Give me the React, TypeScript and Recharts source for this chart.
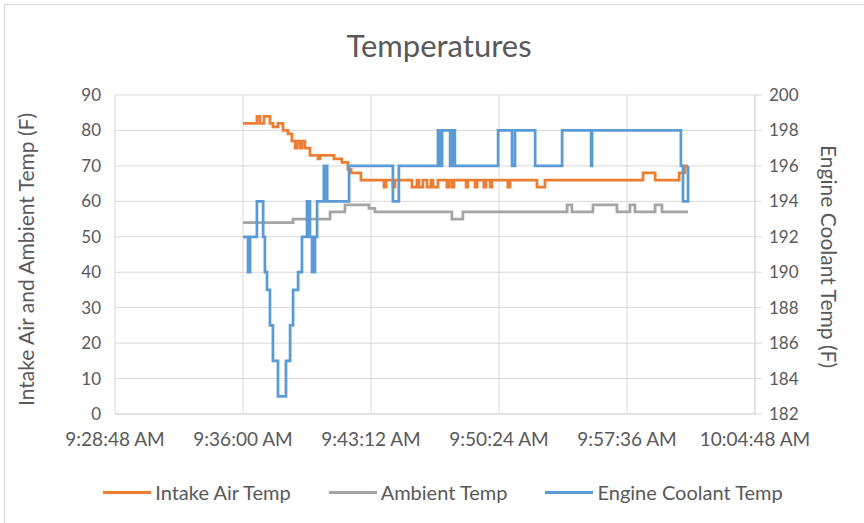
import React from 'react';
import {
    LineChart, Line, XAxis, YAxis, CartesianGrid, Legend
} from 'recharts';

// x axis ticks (Excel time axis, every 7:12)
const xTickLabels = ['9:28:48 AM', '9:36:00 AM', '9:43:12 AM', '9:50:24 AM', '9:57:36 AM', '10:04:48 AM'];
const leftTicks = [0, 10, 20, 30, 40, 50, 60, 70, 80, 90];
const rightTicks = [182, 184, 186, 188, 190, 192, 194, 196, 198, 200];

// Intake Air Temp (F) - left axis
const intakeTimes = [
    '9:36:00', '9:36:47', '9:36:57', '9:37:11', '9:37:31', '9:37:41', '9:37:58', '9:38:15', '9:38:32',
    '9:38:45', '9:38:56', '9:39:02', '9:39:12', '9:39:19', '9:39:29', '9:39:46', '9:40:13', '9:40:20',
    '9:41:07', '9:41:34', '9:41:54', '9:42:05', '9:42:38',
    '9:43:56', '9:44:03', '9:44:26', '9:44:33', '9:45:30', '9:45:47', '9:45:54', '9:46:07', '9:46:21',
    '9:46:34', '9:46:41', '9:46:58', '9:47:28', '9:47:35', '9:47:45', '9:47:52', '9:48:33', '9:48:39',
    '9:49:03', '9:49:10', '9:49:33', '9:49:40', '9:49:54', '9:50:00', '9:50:54', '9:51:01', '9:52:32',
    '9:52:59', '9:58:30', '9:59:11', '10:00:32', '10:00:52', '10:01:02',
];
const intakeTemps = [
    82, 84, 82, 84, 82, 81, 82, 80, 79,
    77, 75, 77, 75, 77, 75, 73, 72, 73,
    72, 71, 69, 68, 66,
    64, 66, 64, 66, 64, 66, 64, 66, 64,
    66, 64, 66, 64, 66, 64, 66, 64, 66,
    64, 66, 64, 66, 64, 66, 64, 66, 64,
    66, 68, 66, 68, 70, 70,
];

// Ambient Temp (F) - left axis
const ambientTimes = [
    '9:36:00', '9:38:49', '9:40:54', '9:41:44', '9:43:05', '9:43:25', '9:47:45', '9:48:22', '9:54:14',
    '9:54:30', '9:55:41', '9:57:02', '9:57:46', '9:58:03', '9:59:11', '9:59:34', '10:01:02',
];
const ambientTemps = [54, 55, 57, 59, 58, 57, 55, 57, 59, 57, 59, 57, 59, 57, 59, 57, 57];

// Engine Coolant Temp (F) - right axis
const coolantTimes = [
    '9:36:00', '9:36:17', '9:36:24', '9:36:47', '9:37:08', '9:37:14', '9:37:21', '9:37:31', '9:37:41',
    '9:37:58', '9:38:25', '9:38:39', '9:38:49', '9:39:06', '9:39:19', '9:39:36', '9:39:39', '9:39:43',
    '9:39:46', '9:39:53', '9:39:56', '9:40:00', '9:40:03', '9:40:10', '9:40:33', '9:40:37', '9:40:40',
    '9:40:44', '9:41:58', '9:44:26', '9:44:46', '9:46:58', '9:47:02', '9:47:05', '9:47:08', '9:47:12',
    '9:47:39', '9:47:42', '9:47:45', '9:47:49', '9:47:55', '9:50:21', '9:51:08', '9:51:18', '9:52:26',
    '9:53:57', '9:55:35', '9:55:38', '10:00:38', '10:00:45', '10:01:02',
];
const coolantTemps = [
    192, 190, 192, 194, 192, 190, 189, 187, 185,
    183, 185, 187, 189, 190, 192, 194, 192, 194,
    192, 190, 192, 190, 192, 194, 196, 194, 196,
    194, 196, 194, 196, 198, 196, 198, 196, 198,
    196, 198, 196, 198, 196, 198, 196, 198, 196,
    198, 196, 198, 196, 194, 196,
];

const ORANGE = '#ED7D31';
const GRAY = '#A5A5A5';
const BLUE = '#5B9BD5';
const TEXT = '#595959';
const GRID = '#d9d9d9';
const FONT = 'Lato, "Open Sans", sans-serif';

const toSec = (s: string) => {
    const [h, m, sec] = s.replace(/ ?[AP]M$/, '').split(':').map(Number);
    return h * 3600 + m * 60 + sec;
};
const fmtTime = (v: number) => {
    const h = Math.floor(v / 3600);
    const m = Math.floor((v % 3600) / 60);
    const s = Math.round(v % 60);
    const pad = (n: number) => String(n).padStart(2, '0');
    return `${h}:${pad(m)}:${pad(s)} AM`;
};

const toSeries = (times: string[], values: number[]) =>
    times.map((t, i) => ({ t: toSec(t), v: values[i] }));

const intakeData = toSeries(intakeTimes, intakeTemps);
const ambientData = toSeries(ambientTimes, ambientTemps);
const coolantData = toSeries(coolantTimes, coolantTemps);
const xTicks = xTickLabels.map(toSec);

const series = [
    { name: 'Intake Air Temp', color: ORANGE },
    { name: 'Ambient Temp', color: GRAY },
    { name: 'Engine Coolant Temp', color: BLUE },
];

const LegendContent = () => (
    <div style={{ height: 40, display: 'flex', justifyContent: 'center', alignItems: 'flex-start', fontFamily: FONT, fontSize: 20, color: TEXT, paddingLeft: 22 }}>
        {series.map(s => (
            <div key={s.name} style={{ display: 'flex', alignItems: 'center', margin: '0 19px', height: 18 }}>
                <div style={{ width: 48, height: 3, background: s.color, marginRight: 4 }} />
                <span>{s.name}</span>
            </div>
        ))}
    </div>
);

const LeftTitle = ({ viewBox }: any) => {
    const x = 25;
    const y = viewBox.y + viewBox.height / 2 + 5;
    return (
        <text x={x} y={y} transform={`rotate(-90, ${x}, ${y})`} textAnchor="middle" dominantBaseline="central"
            fill={TEXT} fontSize={21} fontFamily={FONT}>
            Intake Air and Ambient Temp (F)
        </text>
    );
};

const RightTitle = ({ viewBox }: any) => {
    const x = 829;
    const y = viewBox.y + viewBox.height / 2 + 2;
    return (
        <text x={x} y={y} transform={`rotate(90, ${x}, ${y})`} textAnchor="middle" dominantBaseline="central"
            fill={TEXT} fontSize={21} fontFamily={FONT}>
            Engine Coolant Temp (F)
        </text>
    );
};

export default function App() {
    const yTick = { fill: TEXT, fontSize: 17, fontFamily: FONT };
    const xTick = { fill: TEXT, fontSize: 19, fontFamily: FONT };
    return (
        <div style={{ position: 'absolute', left: 0, top: 0, width: 864, height: 523, background: '#fff', overflow: 'hidden' }}>
            <div style={{ position: 'absolute', left: 4, top: 4, width: 900, height: 600, border: `1px solid ${GRID}` }} />
            <div style={{ position: 'absolute', left: 0, top: 26, width: 878, textAlign: 'center', fontFamily: FONT, fontSize: 31, color: TEXT, lineHeight: '38px' }}>
                Temperatures
            </div>
            <LineChart width={864} height={523} margin={{ top: 95, right: 0, bottom: 0, left: 0 }} style={{ position: 'absolute', left: 0, top: 0 }}>
                <CartesianGrid stroke={GRID} yAxisId="left" />
                <XAxis dataKey="t" type="number" domain={[xTicks[0], xTicks[xTicks.length - 1]]} ticks={xTicks}
                    tickFormatter={fmtTime} height={69} tickLine={false} axisLine={{ stroke: GRID }}
                    tick={xTick} tickMargin={13} allowDataOverflow />
                <YAxis yAxisId="left" domain={[0, 90]} ticks={leftTicks} width={115} tickLine={false}
                    axisLine={false} tick={yTick} tickMargin={8} label={<LeftTitle />} />
                <YAxis yAxisId="right" orientation="right" domain={[182, 200]} ticks={rightTicks} width={109}
                    tickLine={{ stroke: GRID }} tickSize={7} axisLine={{ stroke: GRID }} tick={yTick} tickMargin={7}
                    label={<RightTitle />} />
                <Legend verticalAlign="bottom" height={40} content={<LegendContent />} />
                <Line yAxisId="left" data={intakeData} dataKey="v" name="Intake Air Temp" type="stepAfter"
                    stroke={ORANGE} strokeWidth={2.75} dot={false} isAnimationActive={false} />
                <Line yAxisId="left" data={ambientData} dataKey="v" name="Ambient Temp" type="stepAfter"
                    stroke={GRAY} strokeWidth={2.75} dot={false} isAnimationActive={false} />
                <Line yAxisId="right" data={coolantData} dataKey="v" name="Engine Coolant Temp" type="stepAfter"
                    stroke={BLUE} strokeWidth={2.75} dot={false} isAnimationActive={false} />
            </LineChart>
        </div>
    );
}
